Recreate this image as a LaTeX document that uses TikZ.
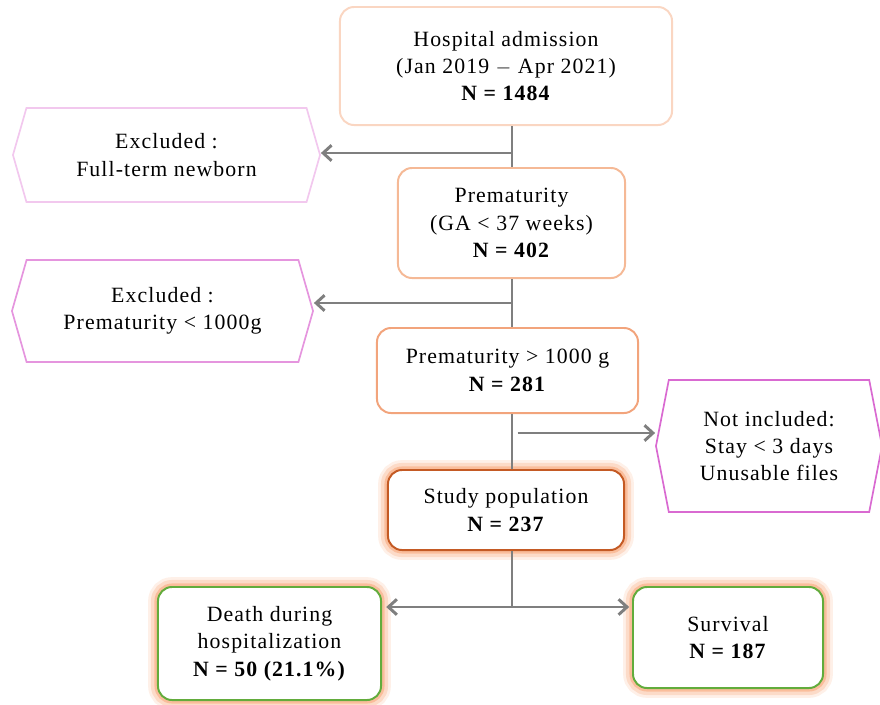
\documentclass[tikz,border=0pt]{standalone}
\usepackage{fontspec}
\setmainfont{Liberation Serif}[LetterSpace=5]
\usetikzlibrary{arrows.meta,shapes.symbols}

\definecolor{palepeach}{HTML}{FAD6C2}
\definecolor{peach}{HTML}{F5B996}
\definecolor{salmon}{HTML}{F2A47C}
\definecolor{rust}{HTML}{C45A24}
\definecolor{leaf}{HTML}{62AC3C}
\definecolor{glowor}{HTML}{F79A66}
\definecolor{palepink}{HTML}{F2C8EE}
\definecolor{orchid}{HTML}{E595DE}
\definecolor{magent}{HTML}{D96AD1}
\definecolor{linegray}{HTML}{7F7F7F}

\begin{document}
\begin{tikzpicture}[x=0.025cm,y=-0.025cm,
  every node/.style={font=\fontsize{15.5}{19.5}\selectfont, align=center, inner sep=0pt},
  box/.style={draw=#1, fill=white, line width=1.4pt, rounded corners=10pt},
  glow/.style={preaction={draw=glowor, line width=14pt, draw opacity=0.15},
               preaction={draw=glowor, line width=10pt, draw opacity=0.25},
               preaction={draw=glowor, line width=5pt, draw opacity=0.45}},
  excl/.style={draw=#1, fill=white, line width=1.2pt, signal, signal to=west and east,
               signal pointer angle=148},
  link/.style={draw=linegray, line width=2.1pt},
  arr/.style={link, -{Straight Barb[length=6pt,width=11pt]}}]

  \useasboundingbox (0,0) rectangle (880,704);

  % boxes of the main line
  \node[box=palepeach, minimum width=8.3cm, minimum height=2.95cm] (adm) at (506,66)
    {Hospital admission\\(Jan 2019 $-$ Apr 2021)\\\textbf{N = 1484}};
  \node[box=peach, minimum width=5.675cm, minimum height=2.75cm] (prem) at (511.5,223)
    {Prematurity\\(GA < 37 weeks)\\\textbf{N = 402}};
  \node[box=salmon, minimum width=6.525cm, minimum height=2.125cm] (p1000) at (507.5,370.5)
    {Prematurity > 1000 g\\\textbf{N = 281}};
  \node[box=rust, glow, minimum width=5.9cm, minimum height=2cm] (study) at (506,510)
    {Study population\\\textbf{N = 237}};
  \node[box=leaf, glow, minimum width=5.575cm, minimum height=2.825cm] (death) at (269.5,643.5)
    {Death during\\hospitalization\\\textbf{N = 50 (21.1\%)}};
  \node[box=leaf, glow, minimum width=4.75cm, minimum height=2.525cm] (surv) at (728,637.5)
    {Survival\\\textbf{N = 187}};

  % exclusions
  \node[excl=palepink, minimum width=7.675cm, minimum height=2.35cm] (ex1) at (166.5,155)
    {Excluded :\\Full-term newborn};
  \node[excl=orchid, minimum width=7.525cm, minimum height=2.55cm] (ex2) at (162.5,311)
    {Excluded :\\Prematurity < 1000g};
  \node[excl=magent, signal pointer angle=158, minimum width=5.65cm, minimum height=3.3cm] (notinc) at (769,446)
    {Not included:\\Stay < 3 days\\Unusable files};

  % spine
  \coordinate (j1) at (512,153);
  \coordinate (j2) at (512,303);
  \coordinate (j3) at (512,433);
  \coordinate (j4) at (512,607);

  \draw[link] (adm.south -| j1) -- (prem.north -| j1);
  \draw[link] (prem.south -| j1) -- (p1000.north -| j1);
  \draw[link] (p1000.south -| j1) -- (study.north -| j1);
  \draw[link] (study.south -| j1) -- (j4);

  \draw[arr] (j1) -- (j1 -| ex1.east);
  \draw[arr] (j2) -- (j2 -| ex2.east);
  \draw[arr] ([xshift=4]j3) -- (j3 -| notinc.west);
  \draw[arr] (j4) -- ([xshift=3]j4 -| death.east);
  \draw[arr] (j4) -- ([xshift=-2]j4 -| surv.west);

\end{tikzpicture}
\end{document}
